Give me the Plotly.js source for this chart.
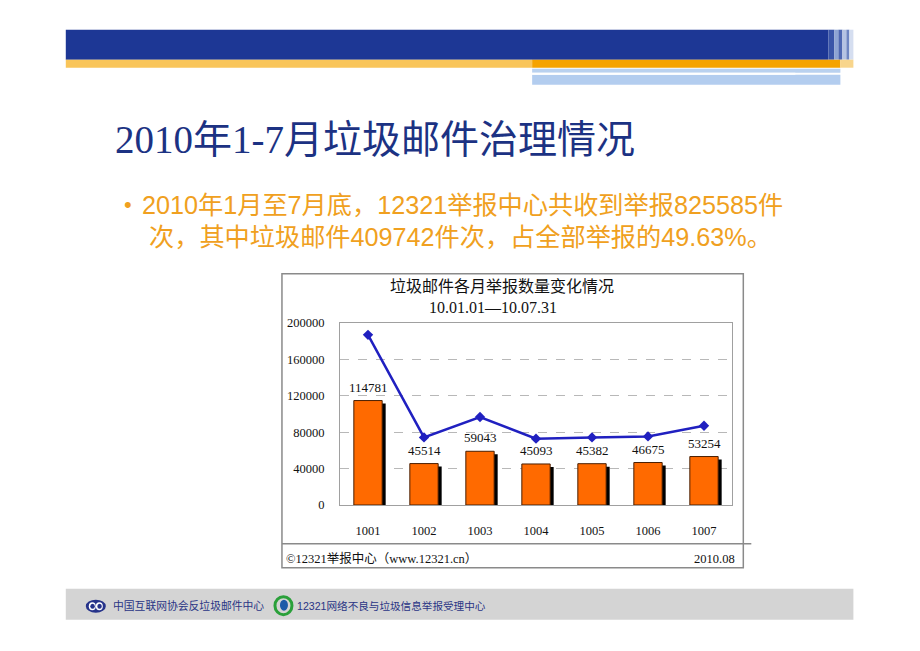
<!DOCTYPE html>
<html>
<head>
<meta charset="utf-8">
<script src="https://cdn.plot.ly/plotly-3.0.1.min.js"></script>
<style>html,body{margin:0;padding:0;background:#fff;}#chart{width:920px;height:651px;}</style>
</head>
<body>
<div id="chart"></div>
<script>
// ---- data ----
const months = ['1001','1002','1003','1004','1005','1006','1007'];
const spamReports = [114781, 45514, 59043, 45093, 45382, 46675, 53254];
const totalReports = [187000, 74300, 96700, 72900, 74300, 75400, 87100];
const yTicks = [0, 40000, 80000, 120000, 160000, 200000];

const slideTitle = '2010年1-7月垃圾邮件治理情况';
const bulletLine1 = '2010年1月至7月底，12321举报中心共收到举报825585件';
const bulletLine2 = '次，其中垃圾邮件409742件次，占全部举报的49.63%。';
const chartTitle = '垃圾邮件各月举报数量变化情况';
const chartPeriod = '10.01.01—10.07.31';
const chartSource = '©12321举报中心（www.12321.cn）';
const chartDate = '2010.08';
const footer1 = '中国互联网协会反垃圾邮件中心';
const footer2 = '12321网络不良与垃圾信息举报受理中心';

// ---- layout geometry ----
const W = 920, H = 651;
const L = 340, R = 731.7, T = 323.3, B = 505.3;
const X = p => (p - L) / (R - L);
const Y = p => (B - p) / (B - T);
const serif = "'Liberation Serif','Noto Sans CJK SC',serif";
const sans = "'Liberation Sans','Noto Sans CJK SC',sans-serif";

const shadowDrop = 3300;
const barW = 0.506, shadowShift = 0.0625;

const traces = [
  {type:'bar', x: months, y: spamReports.map(v => v - shadowDrop), width: barW, offset: -barW/2 + shadowShift,
   marker:{color:'#000000'}, hoverinfo:'skip', showlegend:false},
  {type:'bar', x: months, y: spamReports, width: barW, offset: -barW/2,
   marker:{color:'#ff6a00', line:{color:'#4a1e00', width:1}}, showlegend:false},
  {type:'scatter', mode:'lines+markers', x: months, y: totalReports,
   line:{color:'#2020c0', width:2.5}, marker:{symbol:'diamond', size:8, color:'#2020c0'}, showlegend:false}
];

function rect(x0,y0,x1,y1,fill,line){
  return {type:'rect', xref:'paper', yref:'paper', x0:X(x0), x1:X(x1), y0:Y(y1), y1:Y(y0),
    fillcolor:fill, line: line || {width:0}, layer:'below'};
}
function lineShape(x0,y0,x1,y1,color,w){
  return {type:'line', xref:'paper', yref:'paper', x0:X(x0), x1:X(x1), y0:Y(y0), y1:Y(y1), line:{color:color,width:w}, layer:'below'};
}
function circle(x0,y0,x1,y1,fill,line){
  return {type:'circle', xref:'paper', yref:'paper', x0:X(x0), x1:X(x1), y0:Y(y1), y1:Y(y0),
    fillcolor:fill, line: line || {width:0}, layer:'above'};
}

const shapes = [
  // header band
  rect(66,30,828,60,'#1d3795'),
  rect(828,30,834,60,'#3a55a8'), rect(834,30,838,60,'#8ea4d4'), rect(838,30,842,60,'#4f68b2'),
  rect(842,30,846,60,'#b5c3e3'), rect(846,30,849,60,'#6f86c2'), rect(849,30,853,60,'#d5def0'),
  rect(66,60,532,68,'#f9c55a'), rect(532,60,840,68,'#f5a300'), rect(840,60,853,68,'#f8d58c'),
  rect(532,69,840,73,'#b9d1ef'), rect(532,75,840,85,'#b3cdef'), rect(532,73,795,75,'#ffffff'),
  // chart frame
  rect(282,274,743,568,'rgba(0,0,0,0)',{color:'#8a8a8a',width:1.5}),
  lineShape(282,544,751,544,'#8a8a8a',1.5),
  // footer band
  rect(66,589,853,620,'#d4d4d4'),
  // footer logos
  circle(86,600,106,613,'#26338a'),
  circle(89,602.5,96,610.5,'#ffffff'), circle(96,602.5,103,610.5,'#ffffff'),
  circle(90.5,604,95,609,'#26338a'), circle(97.5,604,102,609,'#26338a'),
  circle(275,597,292,615,'rgba(0,0,0,0)',{color:'#2aa03a',width:3}),
  circle(280,600,288,611,'#1d5aa8')
];

const annotations = [
  {text: slideTitle, x:X(113), y:Y(140), xanchor:'left', yanchor:'middle', font:{family:serif, size:39, color:'#1c3283'}},
  {text:'•', x:X(122), y:Y(205), xanchor:'left', yanchor:'middle', font:{family:sans, size:22, color:'#f0a020'}},
  {text: bulletLine1, x:X(140), y:Y(205), xanchor:'left', yanchor:'middle', font:{family:sans, size:25.2, color:'#f0a020'}},
  {text: bulletLine2, x:X(147), y:Y(237), xanchor:'left', yanchor:'middle', font:{family:sans, size:25.2, color:'#f0a020'}},
  {text: chartTitle, x:X(502), y:Y(287), xanchor:'center', yanchor:'middle', font:{family:serif, size:16, color:'#111'}},
  {text: chartPeriod, x:X(493), y:Y(308), xanchor:'center', yanchor:'middle', font:{family:serif, size:16, color:'#111'}},
  {text: chartSource, x:X(284), y:Y(559), xanchor:'left', yanchor:'middle', font:{family:serif, size:12.5, color:'#111'}},
  {text: chartDate, x:X(737), y:Y(559), xanchor:'right', yanchor:'middle', font:{family:serif, size:12.5, color:'#111'}},
  {text: footer1, x:X(111), y:Y(606), xanchor:'left', yanchor:'middle', font:{family:sans, size:10.8, color:'#2a3585'}},
  {text: footer2, x:X(295), y:Y(606), xanchor:'left', yanchor:'middle', font:{family:sans, size:10.6, color:'#2a3585'}}
];
months.forEach((m,i) => annotations.push({
  text: String(spamReports[i]), x: i, y: spamReports[i], xref:'x', yref:'y',
  xanchor:'center', yanchor:'bottom', yshift:4, showarrow:false,
  font:{family:serif, size:13, color:'#111'}
}));
annotations.forEach(a => { if (!a.xref) { a.xref='paper'; a.yref='paper'; a.showarrow=false; } });

const layout = {
  width: W, height: H,
  margin: {l: L, r: W - R, t: T, b: H - B, pad: 0},
  paper_bgcolor:'#ffffff', plot_bgcolor:'#ffffff',
  barmode:'overlay',
  showlegend:false,
  xaxis:{type:'category', categoryarray: months, range:[-0.5, 6.5], showgrid:false, zeroline:false,
    showline:true, mirror:true, linecolor:'#a0a0a0', linewidth:1, ticks:'', ticklabelstandoff:14,
    tickfont:{family:serif, size:12.5, color:'#111'}, fixedrange:true},
  yaxis:{range:[0, 200000], tickvals: yTicks, ticktext: yTicks.map(String), showgrid:true,
    gridcolor:'#b8b8b8', griddash:'dash', gridwidth:1, zeroline:false,
    showline:true, mirror:true, linecolor:'#a0a0a0', linewidth:1, ticks:'', ticklabelstandoff:12,
    tickfont:{family:serif, size:12.5, color:'#111'}, fixedrange:true},
  shapes: shapes,
  annotations: annotations
};

Plotly.newPlot('chart', traces, layout, {displayModeBar:false, staticPlot:true});
</script>
</body>
</html>
